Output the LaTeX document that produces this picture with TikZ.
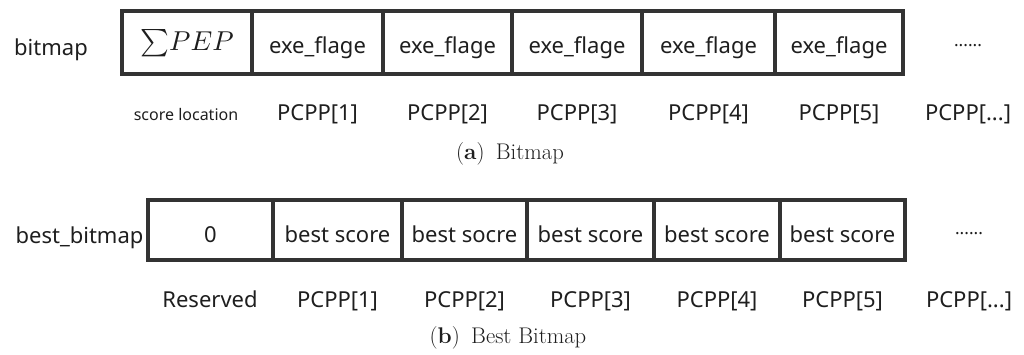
\documentclass[tikz,border=0pt]{standalone}
\usepackage{fontspec}
\setsansfont{Noto Sans}
\definecolor{ink}{HTML}{1E1E1E}
\definecolor{frame}{HTML}{333333}
\begin{document}
\begin{tikzpicture}[x=0.75pt,y=-0.75pt,
  every node/.style={text=ink},
  cw/.style={minimum width=#1*0.75pt},
  cell/.style={draw=frame, line width=3pt, inner sep=0pt,
    font=\sffamily\fontsize{16.5}{20}\selectfont},
  cellA/.style={cell, minimum height=63*0.75pt, text height=15.75pt, text depth=0pt},
  cellB/.style={cell, minimum height=60*0.75pt, text height=18pt, text depth=0pt},
  lab/.style={anchor=base, inner sep=0pt, font=\sffamily\fontsize{16.5}{20}\selectfont},
  smalllab/.style={anchor=base, inner sep=0pt, font=\sffamily\fontsize{12}{14}\selectfont},
  dotrow/.style={anchor=base, inner sep=0pt, font=\sffamily\fontsize{13}{15}\selectfont},
  captxt/.style={anchor=base, inner sep=0pt, font=\rmfamily\fontsize{17}{20}\selectfont}]
\useasboundingbox (0,0) rectangle (1024,354);

% ---- bitmap ----
\node[lab] (bmname) at (51,55) {bitmap};
\node[cellA, cw=130, text height=11.25pt, font=\rmfamily\normalsize] (a0) at (187,42.5)
  {\scalebox{2.05}{$\sum\! PEP$}};
\node[cellA, cw=131] (a1) at (317.5,42.5) {exe\_flage};
\node[cellA, cw=129] (a2) at (447.5,42.5) {exe\_flage};
\node[cellA, cw=130] (a3) at (577,42.5) {exe\_flage};
\node[cellA, cw=133] (a4) at (708.5,42.5) {exe\_flage};
\node[cellA, cw=128] (a5) at (839,42.5) {exe\_flage};
\node[dotrow] (adots) at (968,46) {......};

\node[smalllab] (la0) at (186,120) {score location};
\node[lab] (la1) at (317.5,120) {PCPP[1]};
\node[lab] (la2) at (447.5,120) {PCPP[2]};
\node[lab] (la3) at (577,120) {PCPP[3]};
\node[lab] (la4) at (708.5,120) {PCPP[4]};
\node[lab] (la5) at (839,120) {PCPP[5]};
\node[lab] (la6) at (968,120) {PCPP[...]};

\node[captxt] (capa) at (510,159) {(\textbf{a})\enspace Bitmap};

% ---- best_bitmap ----
\node[lab] (bbname) at (79.5,243) {best\_bitmap};
\node[cellB, cw=125] (b0) at (210.5,230) {0};
\node[cellB, cw=129] (b1) at (337.5,230) {best score};
\node[cellB, cw=125] (b2) at (464.5,230) {best socre};
\node[cellB, cw=127] (b3) at (590.5,230) {best score};
\node[cellB, cw=126] (b4) at (717,230) {best score};
\node[cellB, cw=125] (b5) at (842.5,230) {best score};
\node[dotrow] (bdots) at (969,234) {......};

\node[lab] (lb0) at (210,307) {Reserved};
\node[lab] (lb1) at (337.5,307) {PCPP[1]};
\node[lab] (lb2) at (464.5,307) {PCPP[2]};
\node[lab] (lb3) at (590.5,307) {PCPP[3]};
\node[lab] (lb4) at (717,307) {PCPP[4]};
\node[lab] (lb5) at (842.5,307) {PCPP[5]};
\node[lab] (lb6) at (969,307) {PCPP[...]};

\node[captxt] (capb) at (508,343) {(\textbf{b})\enspace Best Bitmap};
\end{tikzpicture}
\end{document}
